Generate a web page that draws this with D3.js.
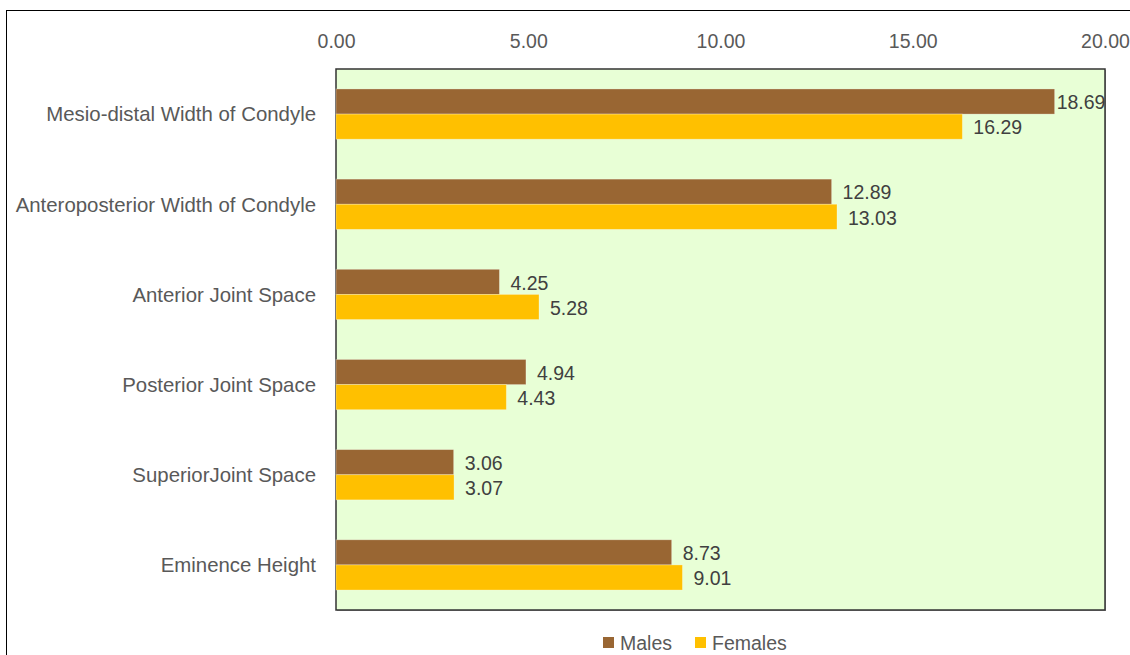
<!DOCTYPE html>
<html>
<head>
<meta charset="utf-8">
<script src="https://cdn.jsdelivr.net/npm/d3@7/dist/d3.min.js"></script>
<style>
  html, body { margin: 0; padding: 0; background: #fff; }
  svg { display: block; font-family: "Liberation Sans", "DejaVu Sans", sans-serif; }
</style>
</head>
<body>
<svg id="chart" width="1130" height="655"></svg>
<script>
// Condylar and joint-space measurements by sex
const categories = [
  "Mesio-distal Width of Condyle",
  "Anteroposterior Width of Condyle",
  "Anterior Joint Space",
  "Posterior Joint Space",
  "SuperiorJoint Space",
  "Eminence Height"
];
const males   = [18.69, 12.89, 4.25, 4.94, 3.06, 8.73];
const females = [16.29, 13.03, 5.28, 4.43, 3.07, 9.01];
const seriesNames = ["Males", "Females"];
const tickValues = [0, 5, 10, 15, 20];

const colors = { Males: "#996633", Females: "#ffc000" };
const textColor = "#595959";
const fontSize = 19.5;

const svg = d3.select("#chart");
const plot = { left: 336, top: 69, right: 1105, bottom: 610 };

// outer chart frame
svg.append("rect")
  .attr("x", 6.5).attr("y", 10.5)
  .attr("width", 1140).attr("height", 660)
  .attr("fill", "none").attr("stroke", "#000").attr("stroke-width", 1);

const x = d3.scaleLinear().domain([0, 20]).range([plot.left, plot.right]);
const y = d3.scaleBand().domain(categories).range([plot.top, plot.bottom]).paddingInner(0.4428).paddingOuter(0.2214);
const ySub = d3.scaleBand().domain(seriesNames).range([0, y.bandwidth()]);

// plot area with soft shadow
svg.append("rect")
  .attr("x", plot.left + 1).attr("y", plot.top + 1)
  .attr("width", plot.right - plot.left).attr("height", plot.bottom - plot.top)
  .attr("fill", "#a0a0a0");
svg.append("rect")
  .attr("x", plot.left).attr("y", plot.top)
  .attr("width", plot.right - plot.left).attr("height", plot.bottom - plot.top)
  .attr("fill", "#e8ffd6").attr("stroke", "#333").attr("stroke-width", 1.5);

// top axis labels
const axis = d3.axisTop(x).tickValues(tickValues).tickFormat(d3.format(".2f")).tickSize(0).tickPadding(0);
const axisG = svg.append("g").attr("transform", `translate(0, 48)`).call(axis);
axisG.select(".domain").remove();
axisG.selectAll("text")
  .attr("fill", textColor).attr("font-size", fontSize).attr("font-family", null);

// category labels
svg.append("g").selectAll("text")
  .data(categories).join("text")
  .attr("x", 316)
  .attr("y", d => y(d) + y.bandwidth() / 2)
  .attr("dy", "0.36em")
  .attr("text-anchor", "end")
  .attr("fill", textColor).attr("font-size", 20.4)
  .text(d => d);

// bars
const rows = categories.map((c, i) => ({ cat: c, values: [
  { name: "Males", value: males[i] },
  { name: "Females", value: females[i] }
]}));

const groups = svg.append("g").selectAll("g")
  .data(rows).join("g")
  .attr("transform", d => `translate(0, ${y(d.cat)})`);

groups.selectAll("rect")
  .data(d => d.values).join("rect")
  .attr("x", x(0))
  .attr("y", d => ySub(d.name))
  .attr("width", d => x(d.value) - x(0))
  .attr("height", ySub.bandwidth())
  .attr("fill", d => colors[d.name])
  .attr("stroke", "rgba(255,255,255,0.35)").attr("stroke-width", 0.8);

groups.selectAll("text")
  .data(d => d.values).join("text")
  .attr("x", d => x(d.value) + (d.value > 18 ? 2 : 11))
  .attr("y", d => ySub(d.name) + ySub.bandwidth() / 2)
  .attr("dy", "0.4em")
  .attr("fill", "#404040").attr("font-size", fontSize)
  .text(d => d.value.toFixed(2));

// legend
const legend = svg.append("g").attr("transform", "translate(603, 643)");
const legendItems = [{ name: "Males", dx: 0 }, { name: "Females", dx: 92 }];
const li = legend.selectAll("g").data(legendItems).join("g")
  .attr("transform", d => `translate(${d.dx}, 0)`);
li.append("rect").attr("x", 0).attr("y", -6).attr("width", 11).attr("height", 11)
  .attr("fill", d => colors[d.name]);
li.append("text").attr("x", 17).attr("y", 0).attr("dy", "0.36em")
  .attr("fill", textColor).attr("font-size", fontSize)
  .text(d => d.name);
</script>
</body>
</html>
